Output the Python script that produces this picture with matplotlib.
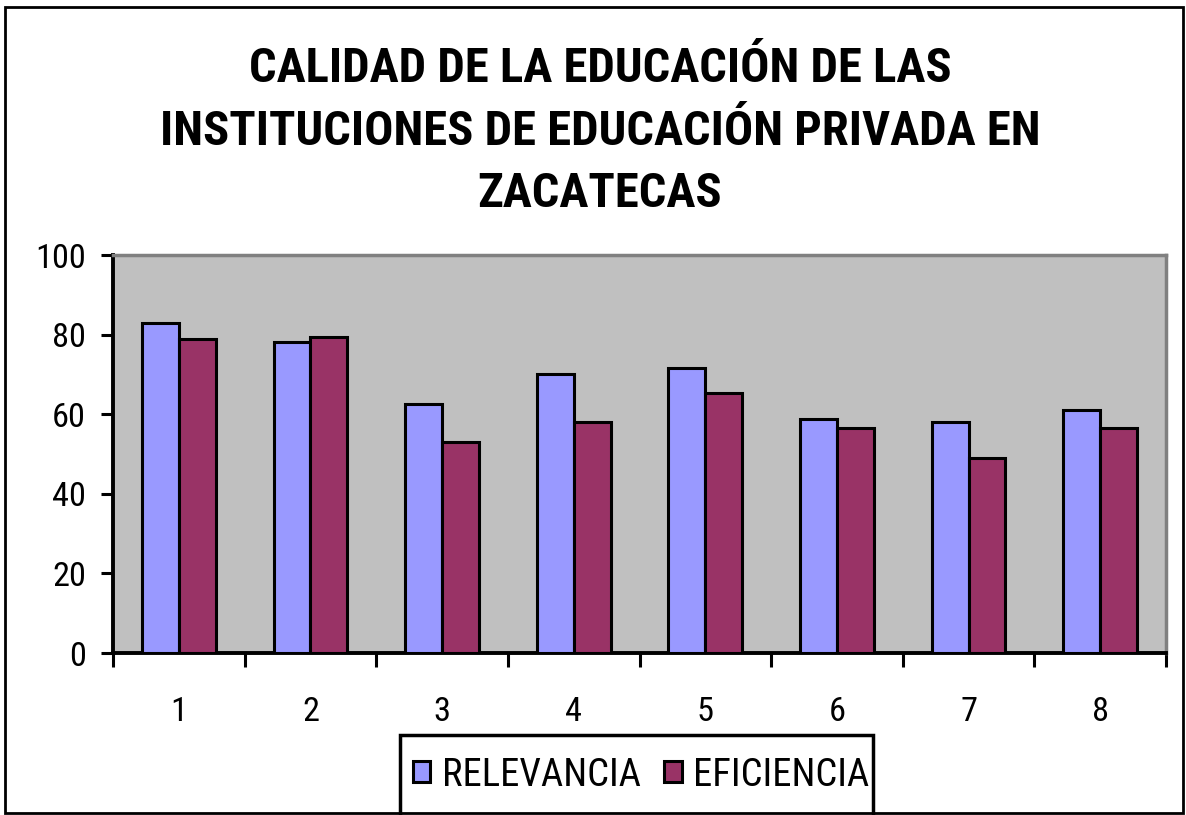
import matplotlib
matplotlib.use("Agg")
import matplotlib.pyplot as plt
from matplotlib import font_manager
from matplotlib.font_manager import FontProperties
from matplotlib.patches import Rectangle
import numpy as np

categories = ["1", "2", "3", "4", "5", "6", "7", "8"]
relevancia = [82.8, 78.2, 62.6, 70.0, 71.5, 58.8, 58.1, 61.1]
eficiencia = [78.9, 79.5, 53.1, 58.1, 65.4, 56.5, 49.1, 56.5]
series_names = ["RELEVANCIA", "EFICIENCIA"]
yticks = [0, 20, 40, 60, 80, 100]
title_lines = ["CALIDAD DE LA EDUCACIÓN DE LAS",
               "INSTITUCIONES DE EDUCACIÓN PRIVADA EN",
               "ZACATECAS"]


def wnum(w):
    if isinstance(w, (int, float)):
        return int(w)
    return font_manager.weight_dict.get(w, 400)


PREFS = ["Liberation Sans Narrow", "Arial Narrow", "Roboto Condensed",
         "Noto Sans Condensed", "Open Sans Condensed", "Inter Condensed",
         "DejaVu Sans Condensed"]


def family_rank(f):
    for i, p in enumerate(PREFS):
        if f.name.startswith(p):
            return i
    if f.name == "DejaVu Sans" and str(f.stretch) in ("condensed", "semi-condensed"):
        return len(PREFS)
    return None


fonts = font_manager.fontManager.ttflist
cands = [(family_rank(f), f) for f in fonts
         if family_rank(f) is not None and f.style == "normal"]


def pick(target):
    ok = [(r, f) for r, f in cands if abs(wnum(f.weight) - target) <= 50]
    if not ok:
        return None
    return min(ok, key=lambda rf: (rf[0], len(rf[1].name)))[1]


reg = pick(400)
bold = pick(700)
if reg is not None:
    reg_fp = lambda s: FontProperties(fname=reg.fname, size=s)
else:
    reg_fp = lambda s: FontProperties(family=["Liberation Sans", "DejaVu Sans"], size=s)
if bold is not None:
    bold_fp = lambda s: FontProperties(fname=bold.fname, size=s)
else:
    bold_fp = lambda s: FontProperties(family=["Liberation Sans", "DejaVu Sans"],
                                       weight="bold", size=s)

W, H, DPI = 1186, 815, 100
fig = plt.figure(figsize=(W / DPI, H / DPI), dpi=DPI)
fig.patch.set_facecolor("white")
renderer = fig.canvas.get_renderer()


def fx(px):
    return px / W


def fy(py):
    return 1 - py / H


def fit_size(text, fp_fn, target_px, base=30.0):
    t = fig.text(0, 0, text, fontproperties=fp_fn(base))
    w = t.get_window_extent(renderer).width
    t.remove()
    return base * target_px / w


ax = fig.add_axes([fx(113), fy(653), fx(1166) - fx(113), fy(255) - fy(653)])
ax.set_facecolor("#C0C0C0")

x = np.arange(len(categories))
bw = 0.28
ax.bar(x - bw / 2, relevancia, width=bw, color="#9999FF", edgecolor="black",
       linewidth=2.2, label=series_names[0], zorder=3)
ax.bar(x + bw / 2, eficiencia, width=bw, color="#993366", edgecolor="black",
       linewidth=2.2, label=series_names[1], zorder=3)

tick_size = min(fit_size("100", reg_fp, 51), 27)
leg_size = min(fit_size("RELEVANCIA", reg_fp, 198), 30)
title_size = min(fit_size(title_lines[1], bold_fp, 880), 36)

ax.set_xlim(-0.5, len(categories) - 0.5)
ax.set_ylim(0, 100)
ax.set_yticks(yticks)
ax.set_yticklabels([str(v) for v in yticks], fontproperties=reg_fp(tick_size))
ax.set_xticks(x)
ax.set_xticklabels(categories, fontproperties=reg_fp(tick_size))
ax.set_xticks(np.arange(len(categories) + 1) - 0.5, minor=True)
ax.tick_params(axis="x", which="major", length=0, pad=31)
ax.tick_params(axis="x", which="minor", length=10, width=2.2, direction="out")
ax.tick_params(axis="y", which="major", length=9, width=2.2, direction="out", pad=10.5)

for s in ["left", "bottom"]:
    ax.spines[s].set_color("black")
    ax.spines[s].set_linewidth(2.8)
for s in ["top", "right"]:
    ax.spines[s].set_color("#808080")
    ax.spines[s].set_linewidth(2.5)

for line, base in zip(title_lines, [82, 145, 207]):
    fig.text(fx(600), fy(base), line, ha="center", va="baseline",
             fontproperties=bold_fp(title_size))

# legend frame (extends past the bottom edge as in the original)
fig.add_artist(Rectangle((fx(400), fy(830)), fx(873) - fx(400), fy(735) - fy(830),
                         transform=fig.transFigure, fill=True, facecolor="white",
                         edgecolor="black", linewidth=2.5, zorder=2))
leg = fig.legend(loc="center", bbox_to_anchor=(fx(641), fy(775)), ncol=2,
                 prop=reg_fp(leg_size), frameon=False,
                 handlelength=0.46, handleheight=0.46, handletextpad=0.3,
                 columnspacing=0.6, borderpad=0, borderaxespad=0)
leg.set_zorder(3)

fig.add_artist(Rectangle((fx(5), fy(813)), fx(1183) - fx(5), fy(7) - fy(813),
                         transform=fig.transFigure, fill=False,
                         edgecolor="black", linewidth=2.0, zorder=4))

fig.savefig("out.png", dpi=DPI)
